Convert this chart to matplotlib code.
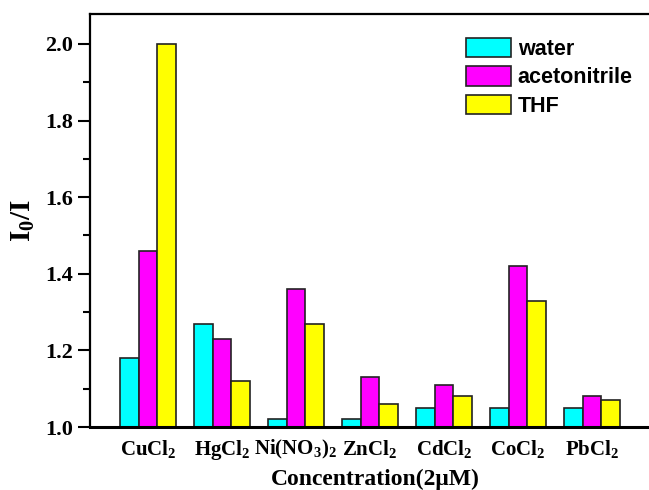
import matplotlib
matplotlib.use("Agg")
import matplotlib.pyplot as plt
import numpy as np
from matplotlib.ticker import MultipleLocator

plt.rcParams['font.family'] = 'Liberation Serif'
plt.rcParams['font.weight'] = 'bold'
plt.rcParams['mathtext.fontset'] = 'custom'
plt.rcParams['mathtext.rm'] = 'Liberation Serif:bold'
plt.rcParams['mathtext.bf'] = 'Liberation Serif:bold'
plt.rcParams['mathtext.it'] = 'Liberation Serif:bold'

# data
categories = ['CuCl$_2$', 'HgCl$_2$', 'Ni(NO$_3$)$_2$', 'ZnCl$_2$',
              'CdCl$_2$', 'CoCl$_2$', 'PbCl$_2$']
water = [1.18, 1.27, 1.02, 1.02, 1.05, 1.05, 1.05]
acetonitrile = [1.46, 1.23, 1.36, 1.13, 1.11, 1.42, 1.08]
thf = [2.00, 1.12, 1.27, 1.06, 1.08, 1.33, 1.07]

series = [('water', water, '#00FFFF'),
          ('acetonitrile', acetonitrile, '#FF00FF'),
          ('THF', thf, '#FFFF00')]

fig = plt.figure(figsize=(6.49, 4.9), dpi=100)
ax = fig.add_axes([90 / 649, 63 / 490, 570 / 649, 413 / 490])

x = np.arange(len(categories))
w = 0.25
base = 1.0
for i, (name, vals, col) in enumerate(series):
    vals = np.array(vals)
    ax.bar(x + (i - 1) * w, vals - base, w, bottom=base, color=col,
           edgecolor='#222222', linewidth=1.2, label=name)

ax.set_xlim(-0.784, 6.92)
ax.set_ylim(1.0, 2.078)
ax.yaxis.set_major_locator(MultipleLocator(0.2))
ax.yaxis.set_minor_locator(MultipleLocator(0.1))
ax.set_yticklabels(['%.1f' % v for v in ax.get_yticks()])
ax.set_xticks(x)
ax.set_xticklabels(categories)

ax.tick_params(axis='y', which='major', direction='out', length=9, width=1.5,
               labelsize=16, pad=3)
ax.tick_params(axis='y', which='minor', direction='out', length=5, width=1.5)
ax.tick_params(axis='x', length=0, labelsize=15, pad=8)
for lab in ax.get_yticklabels() + ax.get_xticklabels():
    lab.set_fontweight('bold')

for s in ['left', 'top', 'bottom']:
    ax.spines[s].set_linewidth(1.6)
ax.spines['bottom'].set_linewidth(2.2)
ax.spines['right'].set_visible(False)

ax.set_ylabel('I$_0$/I', fontsize=21, fontweight='bold', labelpad=6)
ax.set_xlabel('Concentration(2\u03bcM)', fontsize=17, fontweight='bold', labelpad=5)

leg = fig.legend(loc='upper left', bbox_to_anchor=(466 / 649, 1 - 38 / 490),
                 frameon=False, borderpad=0, borderaxespad=0,
                 handlelength=2.1, handleheight=1.0, labelspacing=0.3,
                 handletextpad=0.3,
                 prop={'family': 'Liberation Sans', 'weight': 'bold', 'size': 15.5})

fig.savefig('out.png', dpi=100)
